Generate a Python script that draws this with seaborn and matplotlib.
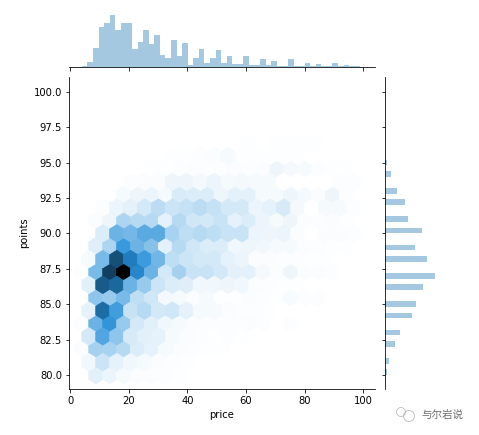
import numpy as np
import pandas as pd
import seaborn as sns
import matplotlib
matplotlib.use("Agg")
import matplotlib.pyplot as plt
from matplotlib.patches import Ellipse

W, H = 479, 435

# price histogram, 50 bins between 4 and 99 (heights)
price_edges = [4 + 1.9 * k for k in range(51)]
price_counts = [4, 16, 58, 121, 133, 157, 112, 133, 133, 55,
                76, 112, 70, 97, 37, 28, 82, 34, 73, 7,
                28, 55, 13, 28, 52, 13, 34, 10, 10, 34,
                7, 7, 25, 7, 19, 4, 4, 25, 4, 4,
                13, 4, 10, 4, 4, 13, 4, 7, 4, 4]

# points histogram, the scores are whole numbers
points_values = [80, 81, 82, 83, 84, 85, 86, 87, 88, 89, 90, 91, 92, 93, 94, 95]
points_counts = [5, 11, 29, 44, 80, 92, 113, 149, 125, 89, 110, 68, 59, 35, 17, 5]
points_edges = [80 + 0.4 * k for k in range(51)]

# hexagon centres of the two offset lattices
x_even = [4.0, 8.75, 13.5, 18.25, 23.0, 27.75, 32.5, 37.25, 42.0, 46.75, 51.5,
          56.25, 61.0, 65.75, 70.5, 75.25, 80.0, 84.75, 89.5, 94.25, 99.0]
x_odd = [6.375, 11.125, 15.875, 20.625, 25.375, 30.125, 34.875, 39.625, 44.375, 49.125,
         53.875, 58.625, 63.375, 68.125, 72.875, 77.625, 82.375, 87.125, 91.875, 96.625]

# hexagon densities per row, bottom to top, left to right
row_y = [80.0, 80.91, 81.82, 82.73, 83.64, 84.55, 85.45, 86.36, 87.27, 88.18,
         89.09, 90.0, 90.91, 91.82, 92.73, 93.64, 94.55, 95.45, 96.36]
row_00 = [0, 70, 45, 25, 15, 12, 8, 4, 2, 1]
row_01 = [35, 120, 60, 35, 25, 15, 8, 4, 2, 2, 2, 2]
row_02 = [15, 210, 200, 170, 85, 60, 25, 15, 8, 6, 6, 2, 2]
row_03 = [100, 400, 260, 95, 70, 60, 25, 15, 8, 6, 10, 4, 2, 2]
row_04 = [8, 340, 480, 240, 100, 70, 35, 25, 15, 8, 10, 10, 15, 10, 3, 10, 2]
row_05 = [60, 620, 440, 130, 170, 100, 110, 60, 25, 25, 12, 8, 8, 4, 2, 2]
row_06 = [0, 260, 240, 310, 150, 110, 30, 25, 15, 25, 4, 5, 12, 10, 4, 20, 8, 8, 2]
row_07 = [70, 680, 640, 340, 240, 120, 85, 75, 35, 35, 40, 35, 15, 8, 4, 4, 2, 2]
row_08 = [8, 310, 780, 1000, 530, 340, 100, 210, 125, 125, 100, 65, 65, 30, 15, 40, 15, 12, 8, 2]
row_09 = [25, 310, 720, 570, 450, 330, 150, 120, 100, 100, 60, 50, 15, 12, 8, 8, 4, 4, 2, 2]
row_10 = [0, 75, 190, 460, 340, 280, 65, 170, 110, 85, 85, 35, 40, 35, 25, 25, 15, 8, 6, 4]
row_11 = [0, 85, 340, 320, 380, 380, 200, 150, 170, 150, 125, 125, 50, 40, 50, 15, 1, 12, 12, 8]
row_12 = [0, 15, 40, 190, 170, 170, 60, 170, 110, 100, 125, 60, 85, 50, 25, 40, 15, 8, 15, 4]
row_13 = [0, 8, 50, 65, 100, 160, 120, 135, 160, 135, 100, 100, 50, 60, 95, 30, 1, 25, 25, 8]
row_14 = [0, 0, 0, 25, 40, 50, 25, 90, 85, 85, 40, 65, 65, 25, 25, 40, 30, 15, 40, 8]
row_15 = [0, 0, 0, 8, 15, 15, 40, 40, 30, 50, 25, 30, 25, 25, 1, 1, 1, 2, 8, 8]
row_16 = [0, 0, 0, 0, 0, 4, 4, 8, 12, 8, 8, 15, 8, 12, 40, 30, 25, 8, 4, 4]
row_17 = [0, 0, 0, 0, 0, 0, 4, 4, 8, 15, 25, 4, 4, 4, 4, 4, 2, 2]
row_18 = [0, 0, 0, 0, 0, 0, 0, 0, 2, 2, 2, 2, 4, 2, 4, 4, 4, 4]
hex_rows = [row_00, row_01, row_02, row_03, row_04, row_05, row_06, row_07, row_08,
            row_09, row_10, row_11, row_12, row_13, row_14, row_15, row_16, row_17, row_18]

x_ticks = [0, 20, 40, 60, 80, 100]
y_ticks = [80.0, 82.5, 85.0, 87.5, 90.0, 92.5, 95.0, 97.5, 100.0]

# long table of the hexagons that are populated
records = []
for n, (y, row) in enumerate(zip(row_y, hex_rows)):
    xs = x_even if n % 2 == 0 else x_odd
    for x, v in zip(xs, row):
        if v > 0:
            records.append((x, y, v))
hex_df = pd.DataFrame(records, columns=["price", "points", "density"])

g = sns.JointGrid(height=6, ratio=5, space=0.2)
g.figure.set_size_inches(W / 72, H / 72)
g.figure.set_dpi(72)

# same white to black blue ramp as jointplot(kind="hex")
color_rgb = matplotlib.colors.to_rgb("C0")
ramp = [sns.utils.set_hls_values(color_rgb, l=l) for l in np.linspace(1, 0, 12)]
cmap = sns.blend_palette(ramp, as_cmap=True)

g.ax_joint.hexbin(hex_df["price"], hex_df["points"], C=hex_df["density"],
                  reduce_C_function=np.sum, gridsize=20,
                  extent=(4, 99, 80, 100), cmap=cmap, vmin=0)

sns.histplot(x=price_edges[:-1], weights=price_counts, bins=price_edges, ax=g.ax_marg_x,
             color="C0", alpha=0.4, linewidth=0)
sns.histplot(y=points_values, weights=points_counts, bins=points_edges, ax=g.ax_marg_y,
             color="C0", alpha=0.4, linewidth=0)

g.ax_joint.set_xlim(-0.4, 104)
g.ax_joint.set_ylim(78.99, 101.06)
g.ax_joint.set_xticks(x_ticks)
g.ax_joint.set_yticks(y_ticks)
g.ax_joint.set_xlabel("price")
g.ax_joint.set_ylabel("points")
g.ax_marg_x.set_ylim(0, 183)
g.ax_marg_y.set_xlim(0, 183)
g.ax_marg_x.set_ylabel("")
g.ax_marg_y.set_xlabel("")

g.ax_joint.set_position([69 / W, (H - 389.3) / H, 306 / W, 312.6 / H])
g.ax_marg_x.set_position([69 / W, (H - 67.3) / H, 306 / W, 61 / H])
g.ax_marg_y.set_position([385.3 / W, (H - 389.3) / H, 61 / W, 312.6 / H])

# watermark in the corner
fig = g.figure
fig.text(421.5 / W, (H - 415) / H, "与尔岩说", fontsize=10.5, color="#6e6e6e",
         va="center", ha="left", family=["Noto Sans CJK SC", "DejaVu Sans"])
for cx, cy, r in [(401, 412, 4.5), (409, 416, 5.5)]:
    fig.add_artist(Ellipse((cx / W, (H - cy) / H), 2 * r / W, 2 * r / H, fill=False,
                           edgecolor="#b0b0b0", linewidth=0.7,
                           transform=fig.transFigure))

fig.savefig("out.png", dpi=72)
